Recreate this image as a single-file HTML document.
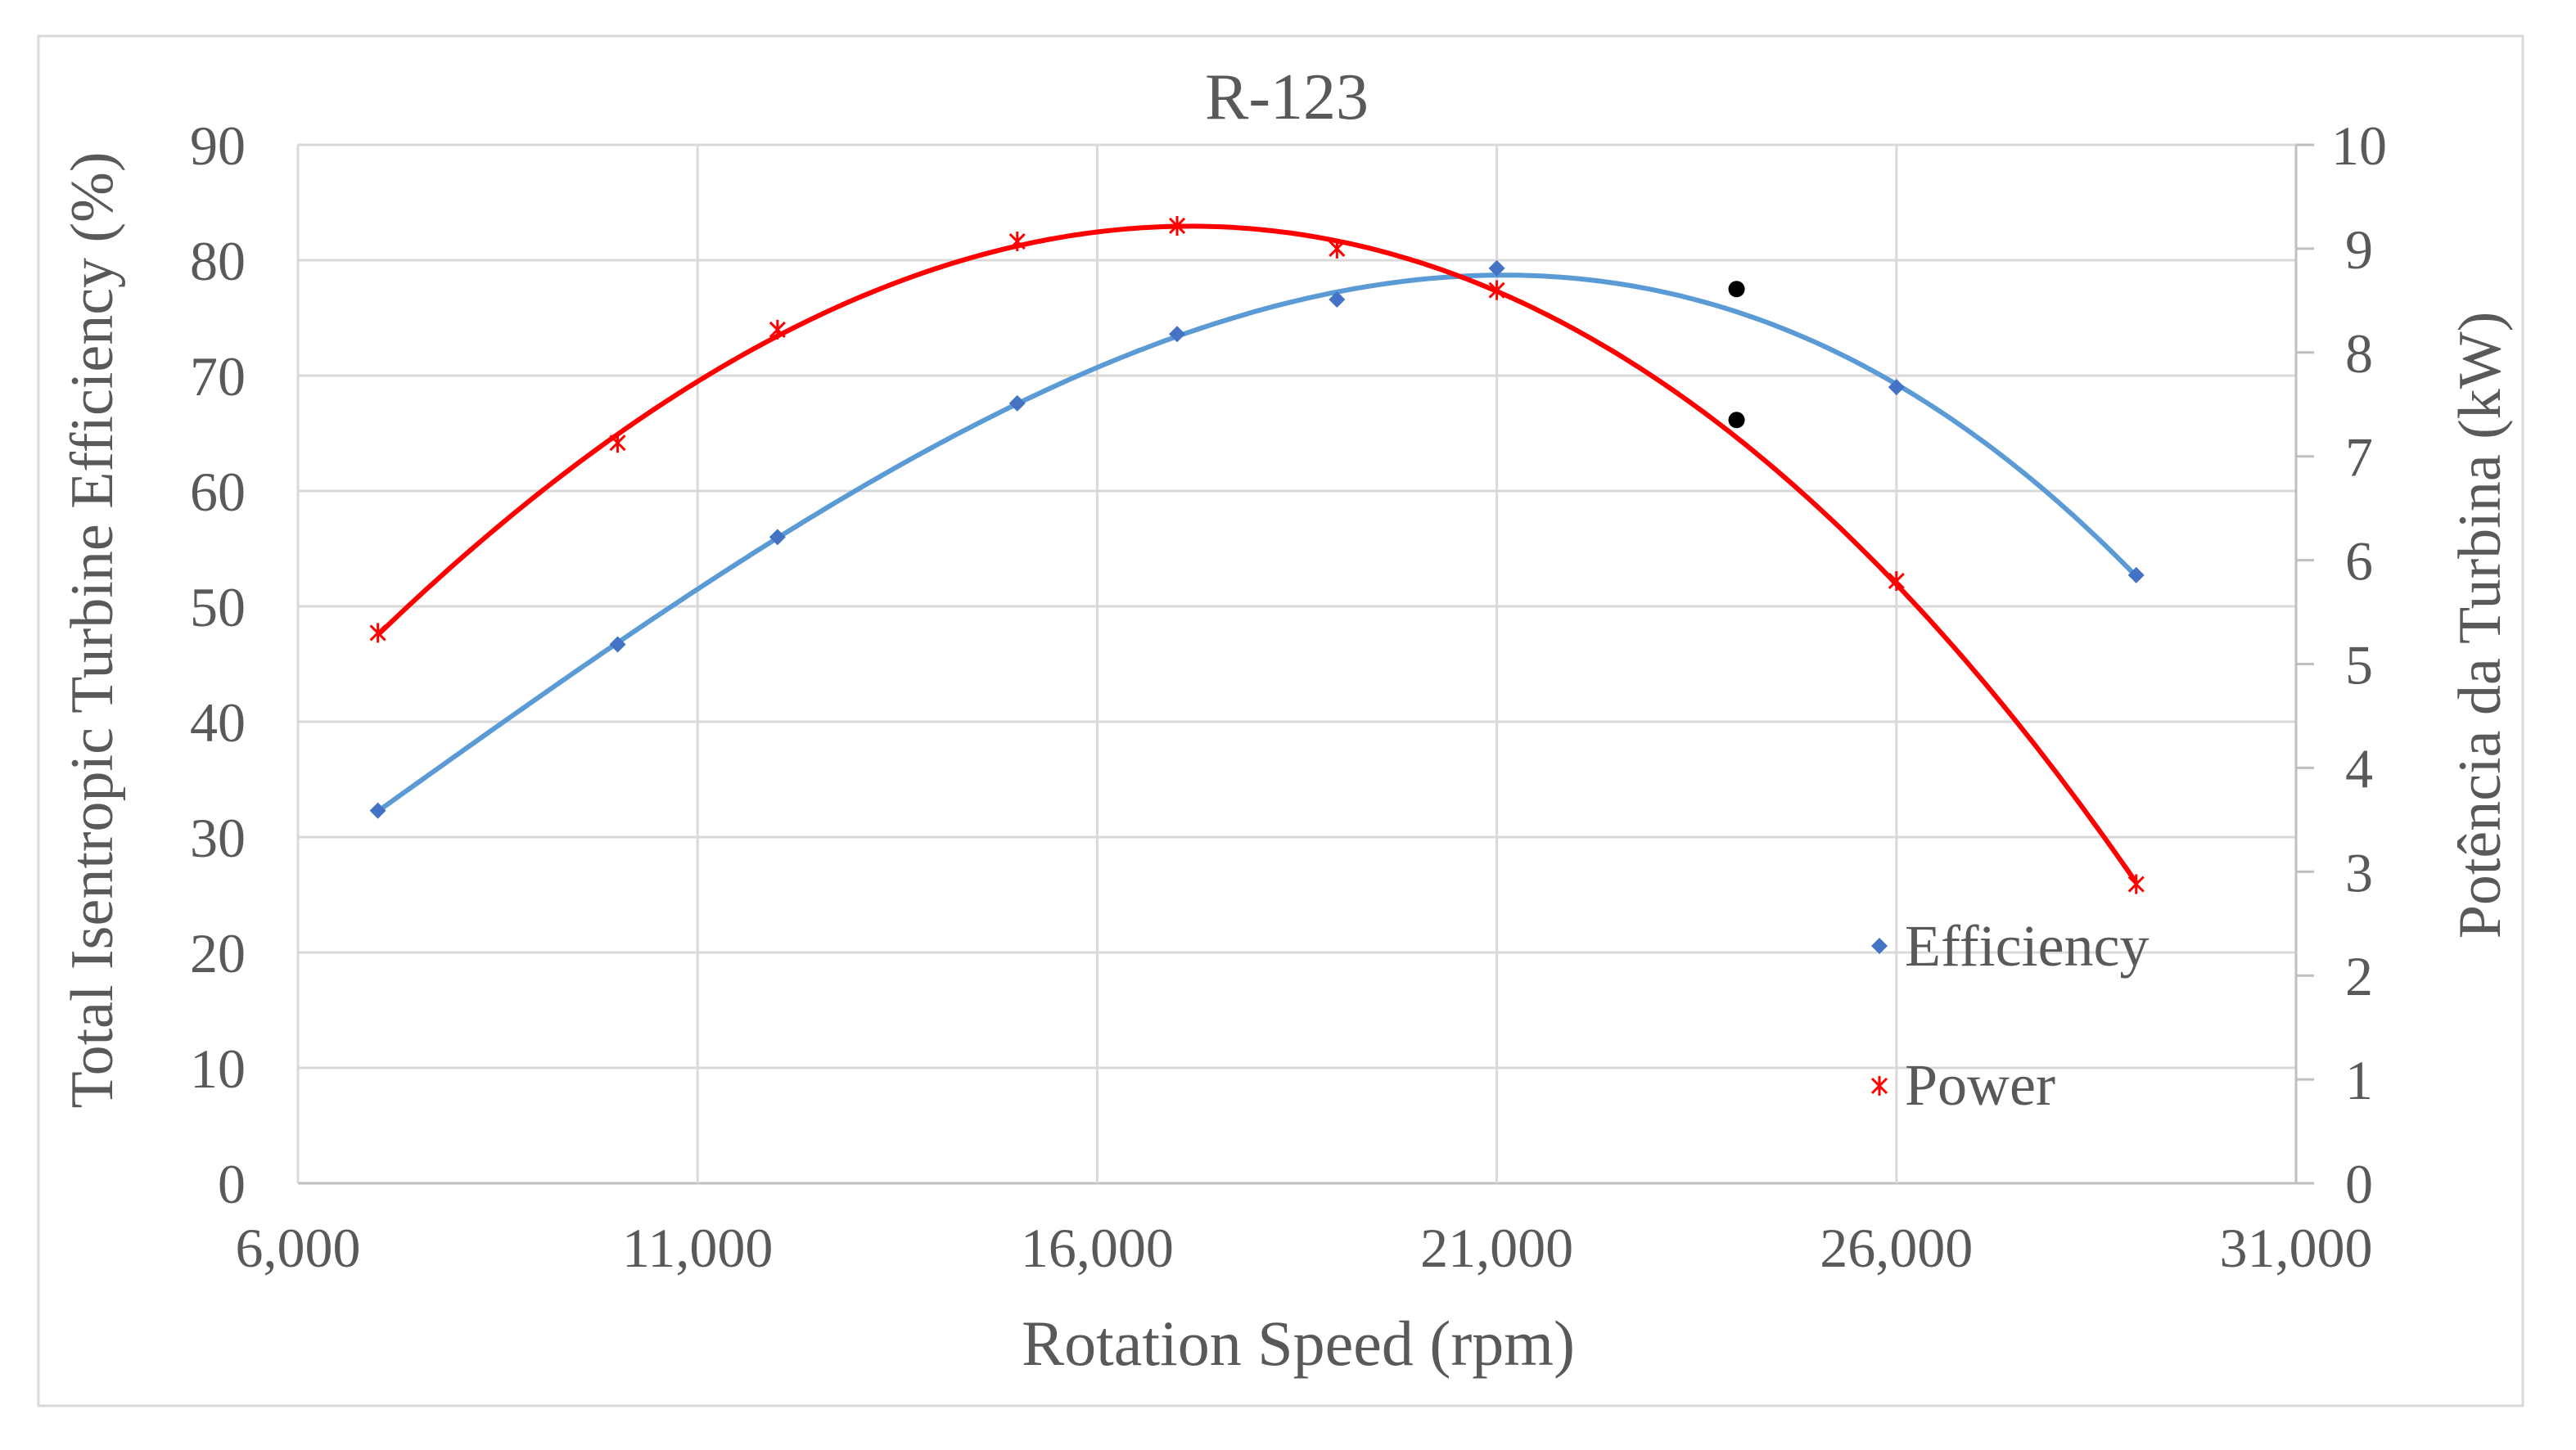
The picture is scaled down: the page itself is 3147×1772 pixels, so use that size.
<!DOCTYPE html>
<html><head><meta charset="utf-8"><style>
html,body{margin:0;padding:0;background:#fff}
svg{display:block;font-family:"Liberation Serif",serif}
</style></head><body>
<svg id="c" width="3147" height="1772" viewBox="0 0 3147 1772">
<rect x="47" y="44" width="3035" height="1674" fill="#fff" stroke="#d9d9d9" stroke-width="3"/>
<g id="grid"></g><g id="axes"></g><g id="series"></g>
<text x="1572" y="145" font-size="80" fill="#595959" text-anchor="middle">R-123</text>
<text x="1586" y="1668" font-size="78" fill="#595959" text-anchor="middle">Rotation Speed (rpm)</text>
<text transform="translate(137,770) rotate(-90)" font-size="74" fill="#595959" text-anchor="middle">Total Isentropic Turbine Efficiency (%)</text>
<text transform="translate(3054,764) rotate(-90)" font-size="74" fill="#595959" text-anchor="middle">Potência da Turbina (kW)</text>
<g>
<path d="M2296,1146 L2306,1156 L2296,1166 L2286,1156 Z" fill="#4472c4"/>
<text x="2327" y="1180" font-size="72" fill="#595959">Efficiency</text>
<g stroke="#ff0000" stroke-width="3"><path d="M2287,1318 L2305,1336 M2305,1318 L2287,1336 M2296,1315 L2296,1339"/></g>
<text x="2327" y="1350" font-size="72" fill="#595959">Power</text>
</g>
</svg>
<script>
const rpm = [7000,10000,12000,15000,17000,19000,21000,26000,29000];
const efficiency = [32.3,46.7,56,67.6,73.6,76.6,79.3,69,52.7];
const power = [5.3,7.13,8.22,9.07,9.22,9.0,8.6,5.8,2.88];
const extraRpm = [24000];
const extraEff = [77.5];
const extraPower = [7.35];
const xTicks = [6000,11000,16000,21000,26000,31000];
const xTickLabels = ["6,000","11,000","16,000","21,000","26,000","31,000"];
const yTicks = [0,10,20,30,40,50,60,70,80,90];
const y2Ticks = [0,1,2,3,4,5,6,7,8,9,10];

const L=364,R=2805,T=177,B=1446,NS="http://www.w3.org/2000/svg";
const X=v=>L+(v-6000)/25000*(R-L);
const Y=v=>B-v/90*(B-T);
const Y2=v=>B-v/10*(B-T);
function mk(tag,attrs,parent){const e=document.createElementNS(NS,tag);for(const k in attrs)e.setAttribute(k,attrs[k]);document.getElementById(parent).appendChild(e);return e;}

yTicks.forEach((t,i)=>{
  const g=mk('line',{x1:L,x2:R,y1:Y(t),y2:Y(t),stroke:t===0?'#bfbfbf':'#d9d9d9','stroke-width':3},'grid');
  
  
  const tx=mk('text',{x:300,y:Y(t)+24,'font-size':68,fill:'#595959','text-anchor':'end'},'axes');
  tx.textContent=t;
  
  
});
xTicks.forEach((t,i)=>{
  const g=mk('line',{x1:X(t),x2:X(t),y1:T,y2:B,stroke:'#d9d9d9','stroke-width':3},'grid');
  
  
  const tx=mk('text',{x:X(t),y:1548,'font-size':68,fill:'#595959','text-anchor':'middle'},'axes');
  tx.textContent=xTickLabels[i];
  
  
});
const ax=mk('line',{x1:R,x2:R,y1:T,y2:B,stroke:'#bfbfbf','stroke-width':3},'axes');


y2Ticks.forEach(t=>{
  const tk=mk('line',{x1:R,x2:R+22,y1:Y2(t),y2:Y2(t),stroke:'#bfbfbf','stroke-width':3},'axes');
  
  
  const tx=mk('text',{x:2882,y:Y2(t)+24,'font-size':68,fill:'#595959','text-anchor':'middle'},'axes');
  tx.textContent=t;
  
  
});

function polyFit(xs,ys,deg){
  const m=deg+1,M=[];
  for(let i=0;i<m;i++){M.push(new Array(m+1).fill(0));}
  for(let n=0;n<xs.length;n++){
    const x=(xs[n]-18000)/10000;
    for(let i=0;i<m;i++){for(let j=0;j<m;j++)M[i][j]+=Math.pow(x,i+j);M[i][m]+=Math.pow(x,i)*ys[n];}
  }
  for(let i=0;i<m;i++){for(let j=i+1;j<m;j++){const f=M[j][i]/M[i][i];for(let k=i;k<=m;k++)M[j][k]-=f*M[i][k];}}
  const c=new Array(m).fill(0);
  for(let i=m-1;i>=0;i--){let v=M[i][m];for(let k=i+1;k<m;k++)v-=M[i][k]*c[k];c[i]=v/M[i][i];}
  return x=>{x=(x-18000)/10000;let s=0;for(let i=0;i<m;i++)s+=c[i]*Math.pow(x,i);return s;};
}
function trend(ys,Yf,color,name){
  const f=polyFit(rpm,ys,3);let d='';
  for(let x=rpm[0];x<=rpm[rpm.length-1];x+=100)d+=(d?'L':'M')+X(x).toFixed(1)+','+Yf(f(x)).toFixed(1);
  const p=mk('path',{d:d,fill:'none',stroke:color,'stroke-width':6},'series');
  
  
}
trend(efficiency,Y,'#5b9bd5','efficiency-trendline');
trend(power,Y2,'#ff0000','power-trendline');
rpm.forEach((r,i)=>{
  const x=X(r),y=Y(efficiency[i]);
  const d=mk('path',{d:`M${x},${y-10}L${x+10},${y}L${x},${y+10}L${x-10},${y}Z`,fill:'#4472c4'},'series');
  
  
  const py=Y2(power[i]);
  const s=mk('path',{d:`M${x-9},${py-9}L${x+9},${py+9}M${x+9},${py-9}L${x-9},${py+9}M${x},${py-12}L${x},${py+12}`,stroke:'#ff0000','stroke-width':3,fill:'none'},'series');
  
  
});
extraRpm.forEach((r,i)=>{
  const a=mk('circle',{cx:X(r),cy:Y(extraEff[i]),r:10,fill:'#000'},'series');
  
  
  const b=mk('circle',{cx:X(r),cy:Y2(extraPower[i]),r:10,fill:'#000'},'series');
  
  
});
</script>
</body></html>
